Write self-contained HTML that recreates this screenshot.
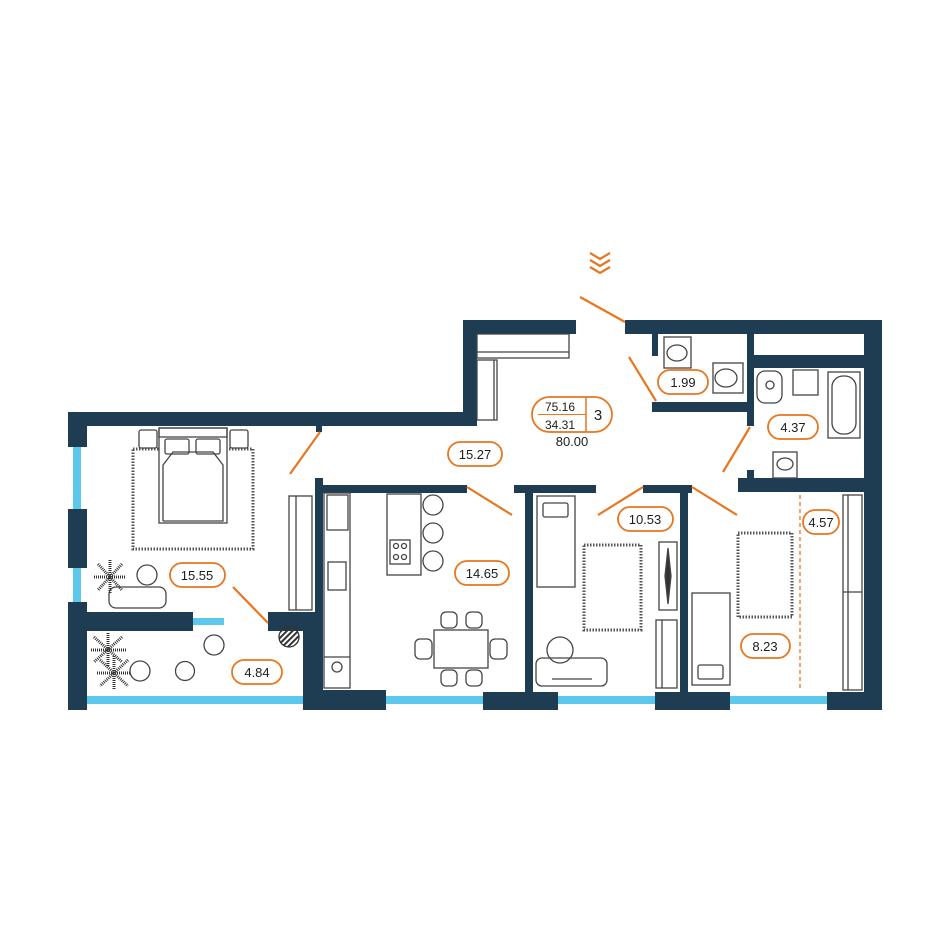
<!DOCTYPE html>
<html><head><meta charset="utf-8"><style>
html,body{margin:0;padding:0;background:#fff}
svg{display:block}
text{font-family:"Liberation Sans",sans-serif;fill:#1d1d1b}
</style></head><body>
<svg width="950" height="950" viewBox="0 0 950 950" xmlns="http://www.w3.org/2000/svg">
<defs>
<pattern id="hat" width="4" height="4" patternUnits="userSpaceOnUse" patternTransform="rotate(45)"><rect width="2" height="4" fill="#333"/></pattern>
</defs>
<!-- windows -->
<g fill="#5bc8ec">
<rect x="73" y="447" width="8" height="63"/>
<rect x="73" y="567" width="8" height="36"/>
<rect x="87" y="696" width="216" height="8"/>
<rect x="386" y="696" width="97" height="8"/>
<rect x="558" y="696" width="97" height="8"/>
<rect x="730" y="696" width="97" height="8"/>
<rect x="193" y="618" width="31" height="7"/>
</g>
<!-- walls -->
<g fill="#1e3d52">
<rect x="68" y="412" width="409" height="14"/>
<rect x="68" y="412" width="19" height="35"/>
<rect x="68" y="509" width="19" height="59"/>
<rect x="68" y="602" width="19" height="108"/>
<rect x="68" y="612" width="125" height="19"/>
<rect x="268" y="612" width="49" height="19"/>
<rect x="303" y="612" width="20" height="98"/>
<rect x="315" y="478" width="8" height="140"/>
<rect x="303" y="690" width="83" height="20"/>
<rect x="316" y="425" width="6" height="7"/>
<rect x="323" y="485" width="144" height="8"/>
<rect x="463" y="320" width="14" height="106"/>
<rect x="463" y="320" width="113" height="14"/>
<rect x="625" y="320" width="257" height="14"/>
<rect x="864" y="320" width="18" height="390"/>
<rect x="652" y="334" width="6" height="22"/>
<rect x="652" y="402" width="101" height="10"/>
<rect x="747" y="334" width="7" height="92"/>
<rect x="747" y="355" width="117" height="13"/>
<rect x="747" y="470" width="7" height="12"/>
<rect x="738" y="478" width="144" height="14"/>
<rect x="514" y="485" width="82" height="8"/>
<rect x="525" y="485" width="8" height="225"/>
<rect x="483" y="692" width="75" height="18"/>
<rect x="643" y="485" width="49" height="8"/>
<rect x="680" y="485" width="8" height="225"/>
<rect x="655" y="692" width="75" height="18"/>
<rect x="827" y="692" width="55" height="18"/>
</g>
<!-- door lines -->
<g stroke="#e8761f" stroke-width="2.2" fill="none">
<line x1="290" y1="474" x2="320" y2="432"/>
<line x1="233" y1="587" x2="268" y2="623"/>
<line x1="467" y1="487" x2="512" y2="515"/>
<line x1="598" y1="515" x2="643" y2="487"/>
<line x1="692" y1="487" x2="737" y2="515"/>
<line x1="723" y1="472" x2="750" y2="427"/>
<line x1="629" y1="357" x2="656" y2="401"/>
<line x1="580" y1="297" x2="625" y2="322"/>
<line x1="800" y1="495" x2="800" y2="690" stroke-width="1.3" stroke-dasharray="4,3"/>
<polyline points="590,253 600,259 610,253"/>
<polyline points="590,260 600,266 610,260"/>
<polyline points="590,267 600,273 610,267"/>
</g>
<!-- furniture -->
<g stroke="#444" stroke-width="1.3" fill="none">
<!-- bedroom -->
<rect x="133" y="449" width="120" height="100" stroke-dasharray="1.5,1.5" stroke-width="3" stroke="#555"/>
<rect x="159" y="428" width="68" height="95" fill="#fff"/>
<rect x="159" y="428" width="68" height="9"/>
<rect x="165" y="439" width="24" height="15" rx="2"/>
<rect x="196" y="439" width="24" height="15" rx="2"/>
<polyline points="163,521 163,465 173,452 213,452 223,465 223,521 163,521"/>
<rect x="139" y="430" width="18" height="18" rx="2" fill="#fff"/>
<rect x="230" y="430" width="18" height="18" rx="2" fill="#fff"/>
<rect x="289" y="496" width="23" height="114"/><line x1="296" y1="496" x2="296" y2="610"/>
<circle cx="147" cy="575" r="10"/>
<rect x="109" y="587" width="57" height="21" rx="7"/>
<!-- balcony -->
<circle cx="140" cy="671" r="10"/>
<circle cx="185" cy="671" r="9.5"/>
<circle cx="214" cy="645" r="10"/>
<circle cx="289" cy="637" r="10" fill="url(#hat)" stroke="#333"/>
<!-- kitchen -->
<rect x="324" y="493" width="26" height="195"/>
<rect x="327" y="495" width="21" height="35"/>
<rect x="328" y="562" width="18" height="28"/>
<circle cx="337" cy="667" r="5"/>
<line x1="324" y1="657" x2="350" y2="657"/>
<rect x="387" y="494" width="34" height="81"/>
<rect x="390" y="540" width="20" height="24"/>
<circle cx="396" cy="546" r="2.5"/><circle cx="404" cy="546" r="2.5"/><circle cx="396" cy="557" r="2.5"/><circle cx="404" cy="557" r="2.5"/>
<circle cx="433" cy="505" r="10"/><circle cx="433" cy="533" r="10"/><circle cx="433" cy="561" r="10"/>
<rect x="434" y="630" width="54" height="38"/>
<rect x="441" y="612" width="16" height="16" rx="5"/><rect x="466" y="612" width="16" height="16" rx="5"/>
<rect x="441" y="670" width="16" height="16" rx="5"/><rect x="466" y="670" width="16" height="16" rx="5"/>
<rect x="415" y="639" width="17" height="20" rx="5"/><rect x="490" y="639" width="17" height="20" rx="5"/>
<!-- hall -->
<rect x="477" y="334" width="92" height="24"/><line x1="477" y1="352" x2="569" y2="352"/>
<rect x="477" y="360" width="20" height="60"/><line x1="494" y1="360" x2="494" y2="420"/>
<!-- bedroom2 -->
<rect x="537" y="496" width="38" height="91"/>
<rect x="543" y="503" width="25" height="14" rx="2"/>
<rect x="584" y="545" width="57" height="85" stroke-dasharray="1.5,1.5" stroke-width="3" stroke="#555"/>
<rect x="536" y="658" width="71" height="28" rx="6"/>
<line x1="552" y1="679" x2="592" y2="679"/>
<circle cx="560" cy="650" r="13"/>
<rect x="659" y="542" width="18" height="68"/>
<path d="M668 548 L671 576 L668 604 L665 576 Z" fill="#333"/>
<rect x="656" y="620" width="21" height="68"/><line x1="662" y1="620" x2="662" y2="688"/>
<!-- bedroom3 -->
<rect x="692" y="593" width="38" height="92"/>
<rect x="698" y="665" width="25" height="14" rx="2"/>
<rect x="738" y="533" width="54" height="84" stroke-dasharray="1.5,1.5" stroke-width="3" stroke="#555"/>
<rect x="843" y="495" width="19" height="195"/><line x1="848" y1="495" x2="848" y2="690"/><line x1="843" y1="592" x2="862" y2="592"/>
<!-- bath -->
<rect x="828" y="372" width="32" height="66"/>
<rect x="832" y="376" width="24" height="58" rx="11"/>
<rect x="757" y="371" width="25" height="32" rx="8"/><circle cx="770" cy="385" r="4"/>
<rect x="793" y="370" width="25" height="25"/>
<rect x="773" y="452" width="24" height="26"/><ellipse cx="785" cy="464" rx="8" ry="6"/>
<!-- wc -->
<rect x="664" y="337" width="27" height="31"/><ellipse cx="677" cy="353" rx="10" ry="8"/>
<rect x="713" y="363" width="30" height="30"/><ellipse cx="726" cy="378" rx="11" ry="9"/>
</g>
<!-- plants -->
<g stroke="#333" stroke-width="3" stroke-dasharray="1,1">
<path d="M98 564 L122 590 M122 564 L98 590 M110 560 L110 594 M94 577 L126 577"/>
<path d="M94 637 L122 662 M122 637 L94 662 M108 633 L108 666 M91 650 L126 650"/>
<path d="M100 660 L128 686 M128 660 L100 686 M114 656 L114 690 M97 673 L131 673"/>
</g>
<!-- labels -->
<g fill="#fff" stroke="#e8761f" stroke-width="1.8">
<rect x="170" y="563" width="55" height="24" rx="12"/>
<rect x="232" y="660" width="50" height="24" rx="12"/>
<rect x="448" y="442" width="54" height="24" rx="12"/>
<rect x="455" y="561" width="54" height="24" rx="12"/>
<rect x="618" y="507" width="55" height="24" rx="12"/>
<rect x="741" y="634" width="49" height="24" rx="12"/>
<rect x="803" y="510" width="36" height="24" rx="12"/>
<rect x="768" y="415" width="50" height="24" rx="12"/>
<rect x="658" y="370" width="50" height="24" rx="12"/>
<rect x="532" y="397" width="80" height="35" rx="17.5"/>
</g>
<line x1="586" y1="397" x2="586" y2="432" stroke="#e8761f" stroke-width="1.5"/>
<line x1="538" y1="414.5" x2="586" y2="414.5" stroke="#e8761f" stroke-width="1"/>
<g font-size="13" text-anchor="middle">
<text x="197" y="580">15.55</text>
<text x="257" y="677">4.84</text>
<text x="475" y="459">15.27</text>
<text x="482" y="578">14.65</text>
<text x="645" y="524">10.53</text>
<text x="765" y="651">8.23</text>
<text x="821" y="527">4.57</text>
<text x="793" y="432">4.37</text>
<text x="683" y="387">1.99</text>
<text x="560" y="411" font-size="12">75.16</text>
<text x="560" y="429" font-size="12">34.31</text>
<text x="598" y="420" font-size="15">3</text>
<text x="572" y="446">80.00</text>
</g>
</svg>
</body></html>
